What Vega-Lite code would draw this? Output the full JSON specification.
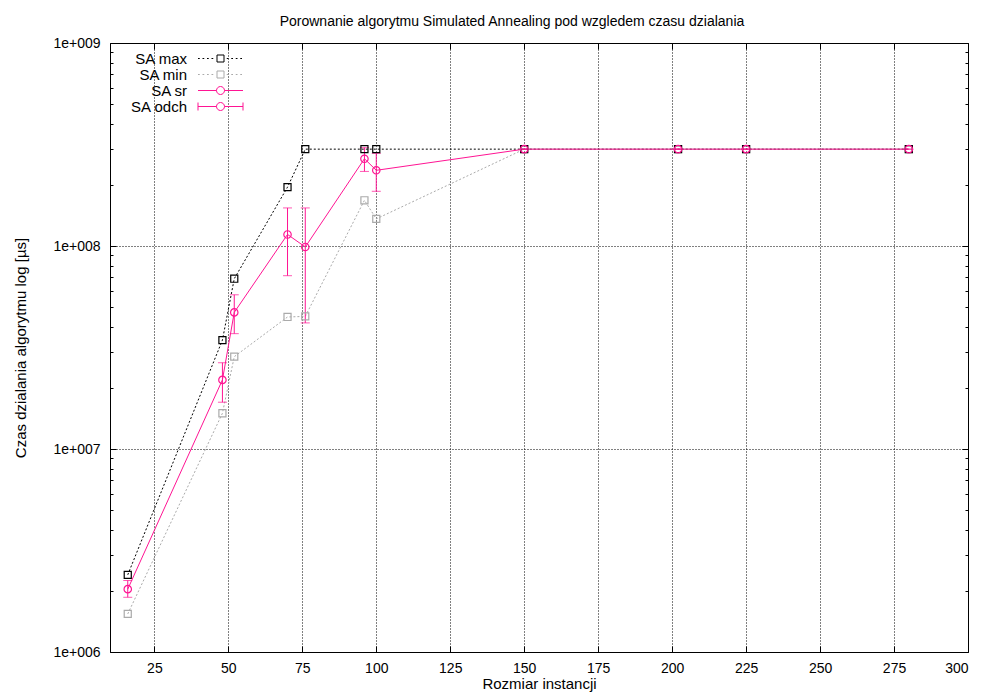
{
  "$schema": "https://vega.github.io/schema/vega-lite/v6.json",
  "width": 858,
  "height": 609,
  "autosize": {"type": "none"},
  "padding": {"left": 110, "top": 43, "right": 19, "bottom": 43},
  "background": "white",
  "config": {
    "font": "Liberation Sans",
    "view": {"stroke": "black", "strokeWidth": 1},
    "axis": {
      "labelFont": "Liberation Sans",
      "labelFontSize": 14,
      "labelColor": "black",
      "titleFont": "Liberation Sans",
      "titleFontSize": 15,
      "titleFontWeight": "normal",
      "titleColor": "black",
      "domain": false,
      "tickColor": "black",
      "tickWidth": 1,
      "gridColor": "black",
      "gridDash": [1, 2],
      "gridWidth": 1
    }
  },
  "title": {
    "text": "Porownanie algorytmu Simulated Annealing pod wzgledem czasu dzialania",
    "font": "Liberation Sans",
    "fontSize": 14,
    "fontWeight": "normal",
    "color": "black",
    "anchor": "middle",
    "dx": -27,
    "offset": 7
  },
  "datasets": {
    "times": [
      {"n": 16, "series": "SA max", "t": 2400000},
      {"n": 48, "series": "SA max", "t": 34400000},
      {"n": 52, "series": "SA max", "t": 69000000},
      {"n": 70, "series": "SA max", "t": 195000000},
      {"n": 76, "series": "SA max", "t": 300000000},
      {"n": 96, "series": "SA max", "t": 300000000},
      {"n": 100, "series": "SA max", "t": 300000000},
      {"n": 150, "series": "SA max", "t": 300000000},
      {"n": 202, "series": "SA max", "t": 300000000},
      {"n": 225, "series": "SA max", "t": 300000000},
      {"n": 280, "series": "SA max", "t": 300000000},
      {"n": 16, "series": "SA min", "t": 1540000},
      {"n": 48, "series": "SA min", "t": 15000000},
      {"n": 52, "series": "SA min", "t": 28500000},
      {"n": 70, "series": "SA min", "t": 44700000},
      {"n": 76, "series": "SA min", "t": 45000000},
      {"n": 96, "series": "SA min", "t": 168000000},
      {"n": 100, "series": "SA min", "t": 136000000},
      {"n": 150, "series": "SA min", "t": 300000000},
      {"n": 202, "series": "SA min", "t": 300000000},
      {"n": 225, "series": "SA min", "t": 300000000},
      {"n": 280, "series": "SA min", "t": 300000000},
      {"n": 16, "series": "SA sr", "t": 2040000},
      {"n": 48, "series": "SA sr", "t": 21900000},
      {"n": 52, "series": "SA sr", "t": 47100000},
      {"n": 70, "series": "SA sr", "t": 114000000},
      {"n": 76, "series": "SA sr", "t": 98900000},
      {"n": 96, "series": "SA sr", "t": 269000000},
      {"n": 100, "series": "SA sr", "t": 236000000},
      {"n": 150, "series": "SA sr", "t": 300000000},
      {"n": 202, "series": "SA sr", "t": 300000000},
      {"n": 225, "series": "SA sr", "t": 300000000},
      {"n": 280, "series": "SA sr", "t": 300000000}
    ],
    "spread": [
      {"n": 16, "lo": 1860000, "hi": 2250000},
      {"n": 48, "lo": 17000000, "hi": 26600000},
      {"n": 52, "lo": 37000000, "hi": 57500000},
      {"n": 70, "lo": 71400000, "hi": 154000000},
      {"n": 76, "lo": 41800000, "hi": 154000000},
      {"n": 96, "lo": 233000000, "hi": 305000000},
      {"n": 100, "lo": 186000000, "hi": 286000000},
      {"n": 150, "lo": 300000000, "hi": 300000000},
      {"n": 202, "lo": 300000000, "hi": 300000000},
      {"n": 225, "lo": 300000000, "hi": 300000000},
      {"n": 280, "lo": 300000000, "hi": 300000000}
    ]
  },
  "resolve": {"axis": {"x": "independent", "y": "independent"}},
  "layer": [
    {
      "data": {"name": "times"},
      "transform": [{"filter": "datum.series === 'SA max'"}],
      "mark": {"type": "line", "strokeWidth": 1, "color": "#000000", "strokeDash": [2, 2]},
      "encoding": {
        "x": {
          "field": "n", "type": "quantitative",
          "scale": {"domain": [10, 300], "nice": false, "zero": false},
          "axis": {
            "orient": "bottom",
            "title": "Rozmiar instancji",
            "values": [25, 50, 75, 100, 125, 150, 175, 200, 225, 250, 275, 300],
            "tickSize": -6,
            "labelPadding": 15,
            "titlePadding": 1,
            "grid": true
          }
        },
        "y": {
          "field": "t", "type": "quantitative",
          "scale": {"type": "log", "domain": [1000000, 1000000000], "nice": false},
          "axis": {
            "orient": "left",
            "title": "Czas dzialania algorytmu log [µs]",
            "titlePadding": 24,
            "values": [1000000, 2000000, 3000000, 4000000, 5000000, 6000000, 7000000, 8000000, 9000000,
                       10000000, 20000000, 30000000, 40000000, 50000000, 60000000, 70000000, 80000000, 90000000,
                       100000000, 200000000, 300000000, 400000000, 500000000, 600000000, 700000000, 800000000, 900000000,
                       1000000000],
            "tickSize": {"condition": {"test": "indexof([1000000, 10000000, 100000000, 1000000000], datum.value) >= 0", "value": -6}, "value": -3},
            "grid": true,
            "gridOpacity": {"condition": {"test": "indexof([1000000, 10000000, 100000000, 1000000000], datum.value) >= 0", "value": 1}, "value": 0},
            "labelExpr": "indexof([1000000, 10000000, 100000000, 1000000000], datum.value) >= 0 ? '1e+' + format(round(log(datum.value) / LN10), '03d') : ''",
            "labelPadding": 16
          }
        }
      }
    },
    {
      "data": {"name": "times"},
      "transform": [{"filter": "datum.series === 'SA min'"}],
      "mark": {"type": "line", "strokeWidth": 1, "color": "#aaaaaa", "strokeDash": [2, 2]},
      "encoding": {
        "x": {"field": "n", "type": "quantitative", "axis": null},
        "y": {"field": "t", "type": "quantitative", "axis": null}
      }
    },
    {
      "data": {"name": "times"},
      "transform": [{"filter": "datum.series === 'SA sr'"}],
      "mark": {"type": "line", "strokeWidth": 1, "color": "#ff1493"},
      "encoding": {
        "x": {"field": "n", "type": "quantitative", "axis": null},
        "y": {"field": "t", "type": "quantitative", "axis": null}
      }
    },
    {
      "data": {"name": "spread"},
      "mark": {"type": "rule", "color": "#ff1493", "strokeWidth": 1},
      "encoding": {
        "x": {
          "field": "n", "type": "quantitative",
          "axis": {
            "orient": "top", "title": null, "labels": false, "grid": false,
            "values": [25, 50, 75, 100, 125, 150, 175, 200, 225, 250, 275, 300],
            "tickSize": -6
          }
        },
        "y": {
          "field": "lo", "type": "quantitative",
          "axis": {
            "orient": "right", "title": null, "labels": false, "grid": false,
            "values": [1000000, 2000000, 3000000, 4000000, 5000000, 6000000, 7000000, 8000000, 9000000,
                       10000000, 20000000, 30000000, 40000000, 50000000, 60000000, 70000000, 80000000, 90000000,
                       100000000, 200000000, 300000000, 400000000, 500000000, 600000000, 700000000, 800000000, 900000000,
                       1000000000],
            "tickSize": {"condition": {"test": "indexof([1000000, 10000000, 100000000, 1000000000], datum.value) >= 0", "value": -6}, "value": -3}
          }
        },
        "y2": {"field": "hi"}
      }
    },
    {
      "data": {"name": "spread"},
      "mark": {"type": "tick", "color": "#ff1493", "thickness": 1, "size": 9, "orient": "horizontal"},
      "encoding": {
        "x": {"field": "n", "type": "quantitative", "axis": null},
        "y": {"field": "lo", "type": "quantitative", "axis": null}
      }
    },
    {
      "data": {"name": "spread"},
      "mark": {"type": "tick", "color": "#ff1493", "thickness": 1, "size": 9, "orient": "horizontal"},
      "encoding": {
        "x": {"field": "n", "type": "quantitative", "axis": null},
        "y": {"field": "hi", "type": "quantitative", "axis": null}
      }
    },
    {
      "data": {"name": "times"},
      "transform": [{"filter": "datum.series === 'SA min'"}],
      "mark": {"type": "point", "shape": "square", "filled": false, "size": 50, "strokeWidth": 1.2, "opacity": 1, "color": "#aaaaaa"},
      "encoding": {
        "x": {"field": "n", "type": "quantitative", "axis": null},
        "y": {"field": "t", "type": "quantitative", "axis": null}
      }
    },
    {
      "data": {"name": "times"},
      "transform": [{"filter": "datum.series === 'SA max'"}],
      "mark": {"type": "point", "shape": "square", "filled": false, "size": 50, "strokeWidth": 1.2, "opacity": 1, "color": "#000000"},
      "encoding": {
        "x": {"field": "n", "type": "quantitative", "axis": null},
        "y": {"field": "t", "type": "quantitative", "axis": null}
      }
    },
    {
      "data": {"name": "times"},
      "transform": [{"filter": "datum.series === 'SA sr'"}],
      "mark": {"type": "point", "shape": "circle", "filled": false, "size": 55, "strokeWidth": 1.2, "opacity": 1, "color": "#ff1493"},
      "encoding": {
        "x": {"field": "n", "type": "quantitative", "axis": null},
        "y": {"field": "t", "type": "quantitative", "axis": null}
      }
    },
    {
      "data": {"name": "times"},
      "transform": [{"filter": "false"}],
      "mark": {"type": "point", "filled": false, "strokeWidth": 1, "opacity": 1},
      "encoding": {
        "x": {"field": "n", "type": "quantitative", "axis": null},
        "y": {"field": "t", "type": "quantitative", "axis": null},
        "color": {
          "field": "series", "type": "nominal",
          "scale": {"domain": ["SA max", "SA min", "SA sr", "SA odch"], "range": ["#000000", "#aaaaaa", "#ff1493", "#ff1493"]},
          "legend": {
            "orient": "none",
            "legendX": 103,
            "legendY": 8,
            "title": null,
            "padding": 0,
            "symbolSize": 100,
            "symbolStrokeWidth": 1,
            "rowPadding": 0,
            "labelAlign": "right",
            "labelOffset": -41,
            "labelFont": "Liberation Sans",
            "labelFontSize": 15,
            "labelColor": "black",
            "labelLimit": 0
          }
        },
        "shape": {
          "field": "series", "type": "nominal",
          "scale": {
            "domain": ["SA max", "SA min", "SA sr", "SA odch"],
            "range": [
              "M-4.5,0h0.35M-3.6,0h0.35M-2.7,0h0.35M-1.8,0h0.35M-0.7,-0.7H0.7V0.7H-0.7ZM1.25,0h0.35M2.15,0h0.35M3.05,0h0.35M3.95,0h0.35",
              "M-4.5,0h0.35M-3.6,0h0.35M-2.7,0h0.35M-1.8,0h0.35M-0.7,-0.7H0.7V0.7H-0.7ZM1.25,0h0.35M2.15,0h0.35M3.05,0h0.35M3.95,0h0.35",
              "M-4.5,0H-0.8M0.8,0H4.5M0.8,0A0.8,0.8,0,1,1,-0.8,0A0.8,0.8,0,1,1,0.8,0",
              "M-4.5,-0.8V0.8M-4.5,0H-0.8M0.8,0H4.5M4.5,-0.8V0.8M0.8,0A0.8,0.8,0,1,1,-0.8,0A0.8,0.8,0,1,1,0.8,0"
            ]
          },
          "legend": {
            "orient": "none",
            "legendX": 103,
            "legendY": 8,
            "title": null,
            "padding": 0,
            "symbolSize": 100,
            "symbolStrokeWidth": 1,
            "rowPadding": 0,
            "labelAlign": "right",
            "labelOffset": -41,
            "labelFont": "Liberation Sans",
            "labelFontSize": 15,
            "labelColor": "black",
            "labelLimit": 0
          }
        }
      }
    }
  ]
}
